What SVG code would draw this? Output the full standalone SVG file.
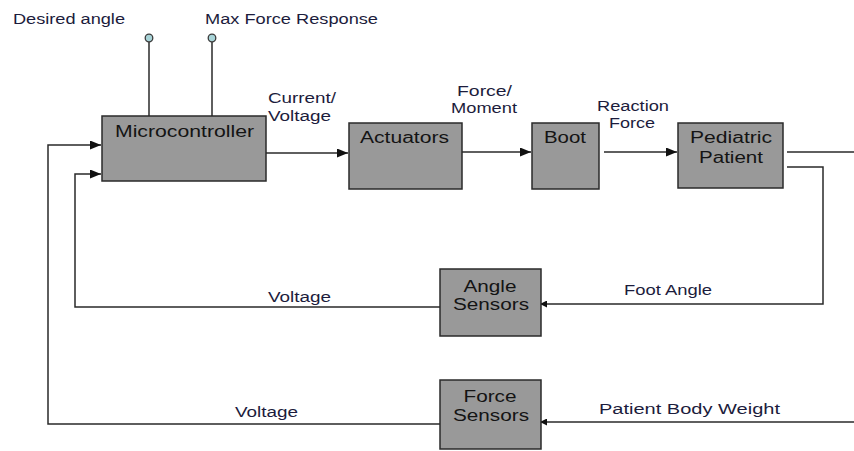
<svg xmlns="http://www.w3.org/2000/svg" width="854" height="451" viewBox="0 0 854 451">
<style>
.box{fill:#999999;stroke:#2a2a2a;stroke-width:1.5}
.bt{font-family:"Liberation Sans",Arial,sans-serif;font-size:16px;fill:#141414;text-anchor:middle}
.lb{font-family:"Liberation Sans",Arial,sans-serif;font-size:14px;fill:#1c1c3c}
.ln{fill:none;stroke:#2a2a2a;stroke-width:1.5}
.pin{fill:#a8d4d8;stroke:#3a3a3a;stroke-width:1.3}
</style>
<defs>
<marker id="ah" viewBox="0 0 10 10" refX="10" refY="5" markerWidth="7" markerHeight="7" markerUnits="userSpaceOnUse" orient="auto">
<path d="M0,0 L10,5 L0,10 z" fill="#111"/>
</marker>
<marker id="ah-big" viewBox="0 0 10 10" refX="10" refY="5" markerWidth="11" markerHeight="9" markerUnits="userSpaceOnUse" orient="auto" preserveAspectRatio="none">
<path d="M0,0 L10,5 L0,10 z" fill="#111"/>
</marker>
</defs>
<rect width="854" height="451" fill="#ffffff"/>

<g id="connectors">
<line class="ln" x1="149" y1="42" x2="149" y2="116"/>
<line class="ln" x1="212" y1="42" x2="212" y2="116"/>
<circle class="pin" cx="149" cy="38" r="3.8"/>
<circle class="pin" cx="212" cy="38" r="3.8"/>
<line class="ln" x1="257" y1="153" x2="348" y2="153" marker-end="url(#ah-big)"/>
<line class="ln" x1="458" y1="152" x2="531" y2="152" marker-end="url(#ah-big)"/>
<line class="ln" x1="604" y1="152" x2="677" y2="152" marker-end="url(#ah-big)"/>
<line class="ln" x1="787" y1="152" x2="854" y2="152"/>
<polyline class="ln" points="787,167 823,167 823,304 540,304" marker-end="url(#ah)"/>
<polyline class="ln" points="440,307 75,307 75,174 101,174" marker-end="url(#ah-big)"/>
<line class="ln" x1="854" y1="422" x2="540" y2="422" marker-end="url(#ah)"/>
<polyline class="ln" points="440,424 48,424 48,145 101,145" marker-end="url(#ah-big)"/>
<text class="lb" x="13" y="24" textLength="112" lengthAdjust="spacingAndGlyphs">Desired angle</text>
<text class="lb" x="205" y="24" textLength="173" lengthAdjust="spacingAndGlyphs">Max Force Response</text>
<text class="lb" x="268" y="103" textLength="68" lengthAdjust="spacingAndGlyphs">Current/</text>
<text class="lb" x="268" y="121" textLength="63" lengthAdjust="spacingAndGlyphs">Voltage</text>
<text class="lb" x="457" y="96" textLength="55" lengthAdjust="spacingAndGlyphs">Force/</text>
<text class="lb" x="451" y="113" textLength="66" lengthAdjust="spacingAndGlyphs">Moment</text>
<text class="lb" x="597" y="111" textLength="72" lengthAdjust="spacingAndGlyphs">Reaction</text>
<text class="lb" x="609" y="128" textLength="46" lengthAdjust="spacingAndGlyphs">Force</text>
<text class="lb" x="624" y="295" textLength="88" lengthAdjust="spacingAndGlyphs">Foot Angle</text>
<text class="lb" x="268" y="302" textLength="63" lengthAdjust="spacingAndGlyphs">Voltage</text>
<text class="lb" x="235" y="417" textLength="63" lengthAdjust="spacingAndGlyphs">Voltage</text>
<text class="lb" x="599" y="414" textLength="181" lengthAdjust="spacingAndGlyphs">Patient Body Weight</text>
</g>

<g id="microcontroller">
<rect class="box" x="102" y="116" width="164" height="65"/>
<text class="bt" x="184.5" y="137" textLength="139" lengthAdjust="spacingAndGlyphs">Microcontroller</text>
</g>
<g id="actuators">
<rect class="box" x="349" y="123" width="113" height="66"/>
<text class="bt" x="404.5" y="143" textLength="89" lengthAdjust="spacingAndGlyphs">Actuators</text>
</g>
<g id="boot">
<rect class="box" x="532" y="123" width="67" height="66"/>
<text class="bt" x="565" y="143" textLength="42" lengthAdjust="spacingAndGlyphs">Boot</text>
</g>
<g id="pediatric-patient">
<rect class="box" x="678" y="123" width="105" height="65"/>
<text class="bt" x="731" y="143" textLength="82" lengthAdjust="spacingAndGlyphs">Pediatric</text>
<text class="bt" x="731" y="163" textLength="64" lengthAdjust="spacingAndGlyphs">Patient</text>
</g>
<g id="angle-sensors">
<rect class="box" x="440" y="269" width="101" height="67"/>
<text class="bt" x="490" y="292" textLength="53" lengthAdjust="spacingAndGlyphs">Angle</text>
<text class="bt" x="491" y="310" textLength="76" lengthAdjust="spacingAndGlyphs">Sensors</text>
</g>
<g id="force-sensors">
<rect class="box" x="440" y="380" width="101" height="69"/>
<text class="bt" x="490" y="402" textLength="53" lengthAdjust="spacingAndGlyphs">Force</text>
<text class="bt" x="491" y="421" textLength="76" lengthAdjust="spacingAndGlyphs">Sensors</text>
</g>
</svg>
